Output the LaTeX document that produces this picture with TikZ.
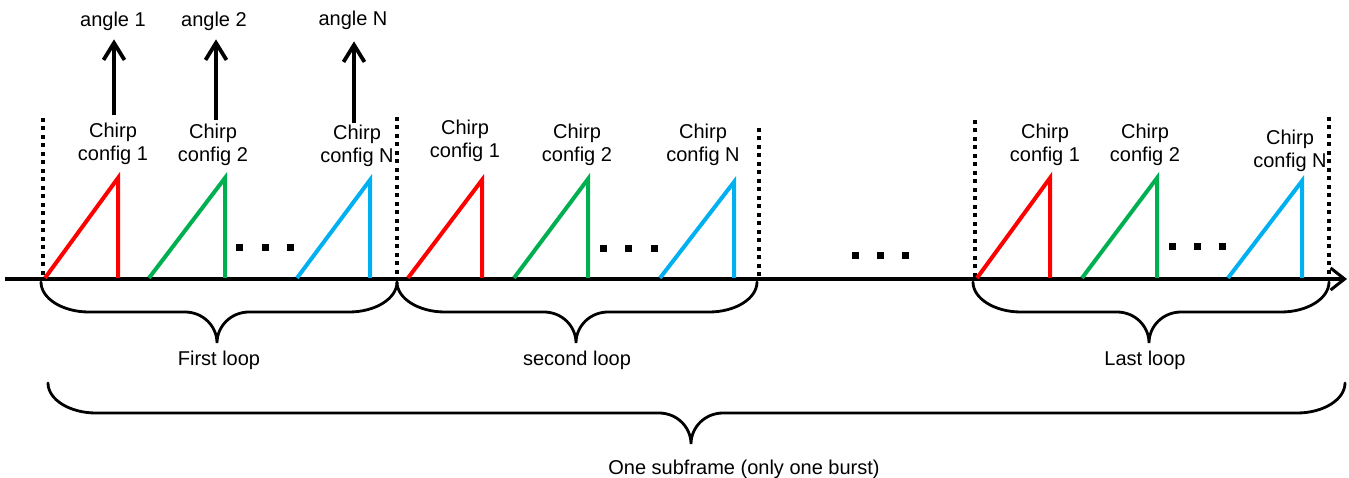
\documentclass[tikz,border=0pt]{standalone}
\usepackage{fontspec}
\setmainfont{Liberation Sans}
\usetikzlibrary{arrows.meta}
\definecolor{cred}{HTML}{FF0000}
\definecolor{cgreen}{HTML}{00B050}
\definecolor{cblue}{HTML}{00B0F0}
\newcommand\mybrace[4]{% x1, x2, xm, y0
  \draw[bracestyle] (#1,#4) .. controls (#1,#4+16.5) and (#1+21.5,#4+30) .. (#1+48,#4+30)
    -- (#3-32,#4+30) .. controls (#3-14.3,#4+30) and (#3,#4+43.9) .. (#3,#4+61)
    .. controls (#3,#4+43.9) and (#3+14.3,#4+30) .. (#3+32,#4+30)
    -- (#2-48,#4+30) .. controls (#2-21.5,#4+30) and (#2,#4+16.5) .. (#2,#4);}
\newcommand\sqdot[2]{\fill[black] (#1-3.5,#2-3.5) rectangle (#1+3.5,#2+3.5);}
\tikzset{
  lbl/.style={font=\fontsize{20}{23}\selectfont, inner sep=0pt, align=center},
  chirp/.style={line width=4pt, line join=miter},
  dotline/.style={line width=4pt, dash pattern=on 4pt off 4.5pt},
  uparrow/.style={line width=3.8pt, -{Straight Barb[length=17pt,width=21pt]}},
  axis/.style={line width=4pt, -{Straight Barb[length=14pt,width=22pt,line width=3pt]}},
  bracestyle/.style={line width=2.8pt, line cap=round},
}
\begin{document}
\begin{tikzpicture}[x=1pt,y=-1pt]
\useasboundingbox (0,0) rectangle (1349,478);
% dotted separators
\draw[dotline] (43,118) -- (43,278);
\draw[dotline] (397,117) -- (397,278);
\draw[dotline] (759,128) -- (759,280);
\draw[dotline] (975,120) -- (975,278);
\draw[dotline] (1329,117) -- (1329,278);
% axis
\coordinate (axs) at (5,279);
\coordinate (axe) at (1347,279);
\draw[axis] (axs) -- (axe);
% loop 1 chirps
\draw[chirp,cred] (45,278) -- (118,178) -- (118,278);
\draw[chirp,cgreen] (149,278) -- (225,178) -- (225,278);
\draw[chirp,cblue] (297,278) -- (370,180) -- (370,278);
\sqdot{239}{248}\sqdot{265}{248}\sqdot{290}{248}
% loop 2 chirps
\draw[chirp,cred] (408,278) -- (482,180) -- (482,278);
\draw[chirp,cgreen] (514,278) -- (588,179) -- (588,278);
\draw[chirp,cblue] (660,278) -- (734,182) -- (734,278);
\sqdot{603}{249}\sqdot{628}{249}\sqdot{654}{249}
% middle dots
\sqdot{855}{256}\sqdot{880}{256}\sqdot{905}{256}
% loop 3 chirps
\draw[chirp,cred] (977,278) -- (1050,178) -- (1050,278);
\draw[chirp,cgreen] (1082,278) -- (1157,178) -- (1157,278);
\draw[chirp,cblue] (1228,278) -- (1302,181) -- (1302,278);
\sqdot{1172}{247}\sqdot{1197}{247}\sqdot{1222}{247}
% chirp labels
\node[lbl] (c11) at (113,144.3) {Chirp\\config 1};
\node[lbl] (c12) at (213,145.3) {Chirp\\config 2};
\node[lbl] (c1N) at (357,146.3) {Chirp\\config N};
\node[lbl] (c21) at (465,141.3) {Chirp\\config 1};
\node[lbl] (c22) at (577,145.3) {Chirp\\config 2};
\node[lbl] (c2N) at (703,145.3) {Chirp\\config N};
\node[lbl] (c31) at (1045,145.3) {Chirp\\config 1};
\node[lbl] (c32) at (1145,145.3) {Chirp\\config 2};
\node[lbl] (c3N) at (1290,151.3) {Chirp\\config N};
% angle labels
\node[lbl, anchor=base] (a1) at (113,27) {angle 1};
\node[lbl, anchor=base] (a2) at (214,27) {angle 2};
\node[lbl, anchor=base] (aN) at (353,25.5) {angle N};
\draw[uparrow] ([xshift=1pt,yshift=8pt]c11.north) -- ([xshift=1pt,yshift=-8pt]a1.south);
\draw[uparrow] ([xshift=3pt,yshift=4.4pt]c12.north) -- ([xshift=2pt,yshift=-8pt]a2.south);
\draw[uparrow] ([xshift=-3pt,yshift=2.4pt]c1N.north) -- ([xshift=1pt,yshift=-11.5pt]aN.south);
% braces
\mybrace{41}{397}{217}{282}
\mybrace{397}{757}{576}{282}
\mybrace{973}{1329}{1149}{282}
\mybrace{48}{1345}{691}{383}
% brace labels
\node[lbl, anchor=base] (l1) at (219,365) {First loop};
\node[lbl, anchor=base] (l2) at (577,365) {second loop};
\node[lbl, anchor=base] (l3) at (1145,365) {Last loop};
\node[lbl, anchor=base] (lsf) at (744,474) {One subframe (only one burst)};
\end{tikzpicture}
\end{document}
